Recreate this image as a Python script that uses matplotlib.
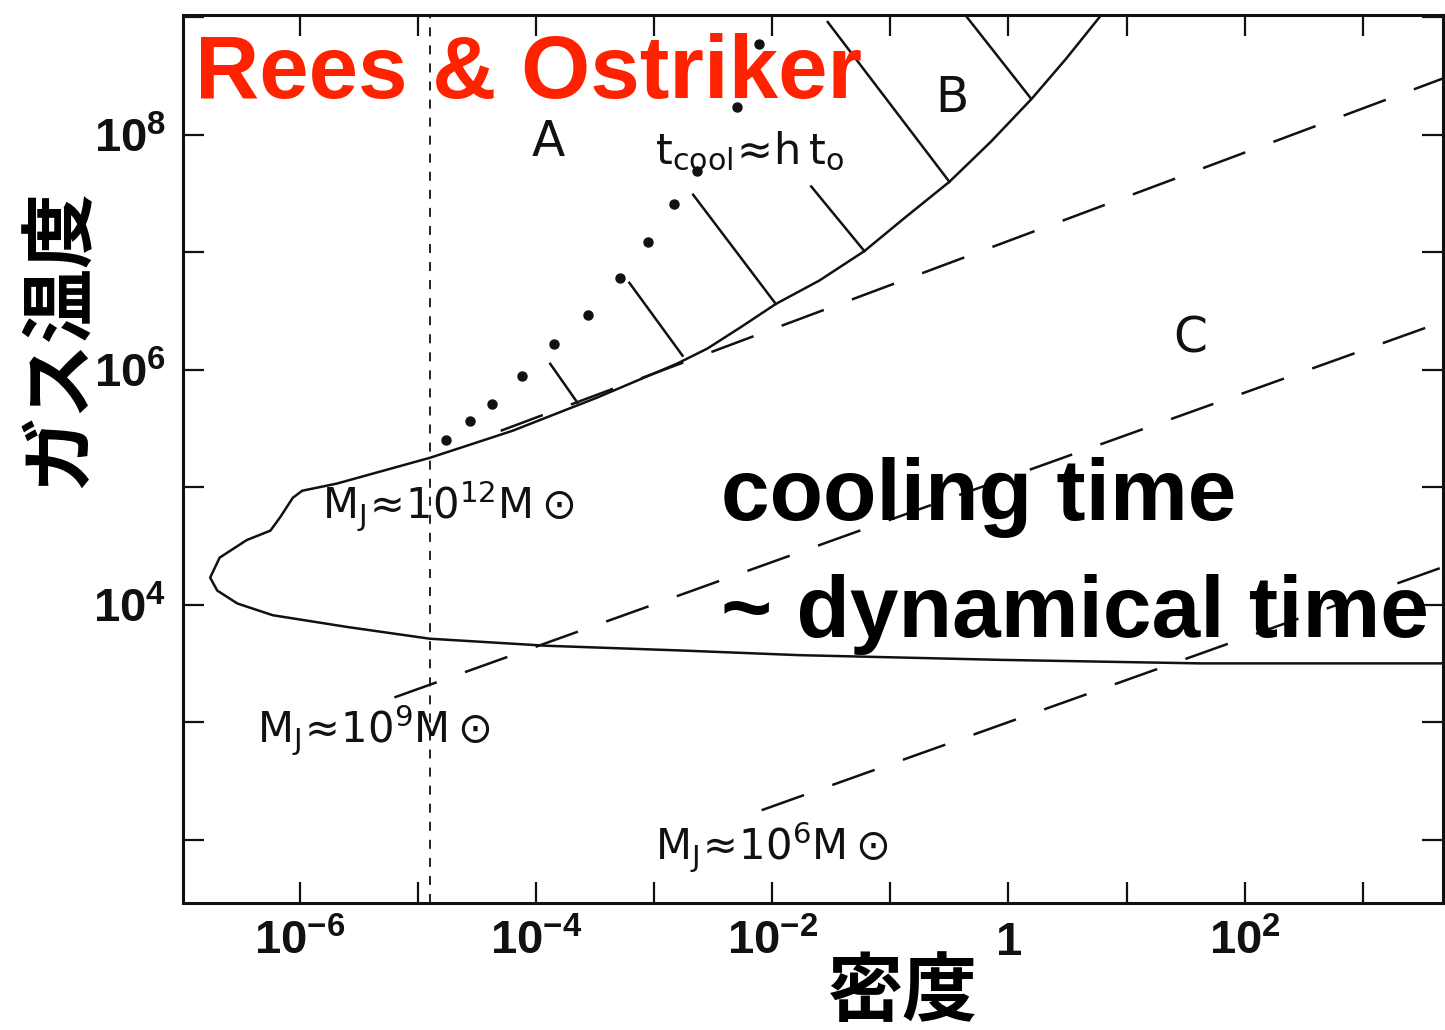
import matplotlib
matplotlib.use("Agg")
import matplotlib.pyplot as plt
from matplotlib.ticker import FixedLocator, NullLocator, FixedFormatter

plt.rcParams['mathtext.fontset'] = 'custom'
plt.rcParams['mathtext.rm'] = 'DejaVu Sans'
plt.rcParams['mathtext.bf'] = 'Liberation Sans:bold'

# boundary of the cooling region (log10 density, log10 temperature)
curve_logn = [0.77, 0.49, 0.20, -0.15, -0.50, -0.87, -1.22, -1.60, -1.97, -2.27, -2.55, -2.81,
              -3.49, -4.20, -4.90, -5.69, -5.98, -6.06, -6.17, -6.25, -6.45, -6.68, -6.76,
              -6.70, -6.53, -6.23, -5.60, -4.90, -3.91, -2.78, -1.77, -0.07, 1.62, 3.68]
curve_logT = [9.00, 8.65, 8.31, 7.94, 7.60, 7.30, 7.01, 6.76, 6.56, 6.36, 6.18, 6.05,
              5.76, 5.48, 5.25, 5.03, 4.97, 4.91, 4.74, 4.63, 4.55, 4.40, 4.23,
              4.12, 4.01, 3.91, 3.81, 3.71, 3.65, 3.61, 3.57, 3.53, 3.50, 3.50]

# t_cool ~ h t_0 dotted line
dots_logn = [-4.76, -4.56, -4.37, -4.12, -3.85, -3.56, -3.29, -3.05, -2.83, -2.64, -2.30, -2.11]
dots_logT = [5.40, 5.56, 5.71, 5.95, 6.22, 6.47, 6.78, 7.09, 7.41, 7.69, 8.24, 8.77]

# hatch strokes on region B
hatch_logn = [(-1.53, -0.50), (-0.35, 0.19), (-1.67, -1.22), (-2.67, -1.97), (-3.21, -2.76), (-3.88, -3.65)]
hatch_logT = [(8.96, 7.60), (9.00, 8.31), (7.56, 7.01), (7.49, 6.56), (6.74, 6.12), (6.05, 5.72)]

# Jeans mass lines
jeans_names = ['12', '9', '6']
jeans_logn = [(-4.30, 3.68), (-5.20, 3.68), (-2.09, 3.68)]
jeans_logT = [(5.48, 8.48), (3.21, 6.41), (2.25, 4.32)]

vline_logn = -4.9

xtick_pos = list(range(-7, 4))
xtick_lab = ['', r'$\mathbf{10^{-6}}$', '', r'$\mathbf{10^{-4}}$', '', r'$\mathbf{10^{-2}}$', '',
             r'$\mathbf{1}$', '', r'$\mathbf{10^{2}}$', '']
ytick_pos = list(range(2, 10))
ytick_lab = ['', '', r'$\mathbf{10^{4}}$', '', r'$\mathbf{10^{6}}$', '', r'$\mathbf{10^{8}}$', '']

ink = '#111111'

fig = plt.figure(figsize=(14.45, 10.3), dpi=100)
ax = fig.add_axes([183 / 1445, 1 - 903 / 1030, 1260 / 1445, 888 / 1030])
ax.set_xscale('log')
ax.set_yscale('log')

ax.plot([10 ** v for v in curve_logn], [10 ** v for v in curve_logT], color=ink, lw=1.8)
ax.plot([10 ** v for v in dots_logn], [10 ** v for v in dots_logT], 'o', color=ink, ms=6.5, ls='none')
for xs, ys in zip(hatch_logn, hatch_logT):
    ax.plot([10 ** v for v in xs], [10 ** v for v in ys], color=ink, lw=1.8)
for xs, ys in zip(jeans_logn, jeans_logT):
    ax.plot([10 ** v for v in xs], [10 ** v for v in ys], color=ink, lw=1.8, dashes=(18, 12))
ax.axvline(10 ** vline_logn, color=ink, lw=1.3, dashes=(5, 5))

ax.set_xlim(10 ** -6.99, 10 ** 3.68)
ax.set_ylim(10 ** 1.46, 10 ** 9.02)

ax.xaxis.set_major_locator(FixedLocator([10.0 ** p for p in xtick_pos]))
ax.xaxis.set_major_formatter(FixedFormatter(xtick_lab))
ax.yaxis.set_major_locator(FixedLocator([10.0 ** p for p in ytick_pos]))
ax.yaxis.set_major_formatter(FixedFormatter(ytick_lab))
ax.xaxis.set_minor_locator(NullLocator())
ax.yaxis.set_minor_locator(NullLocator())
ax.tick_params(which='major', direction='in', length=15, width=1.6, top=True, right=True,
               labelsize=34, colors=ink, pad=12)
for s in ax.spines.values():
    s.set_linewidth(2.2)
    s.set_color(ink)

lab_kw = dict(color=ink, fontsize=35, family='DejaVu Sans', ha='center', va='center')
ax.text(10 ** -3.90, 10 ** 7.94, 'A', **lab_kw)
ax.text(10 ** -0.48, 10 ** 8.31, 'B', **lab_kw)
ax.text(10 ** 1.54, 10 ** 6.27, 'C', **lab_kw)
ax.text(10 ** -2.99, 10 ** 7.86, r'$\mathrm{t_{cool}\!\approx\!h\,t_o}$', color=ink, fontsize=31,
        ha='left', va='center')
mj_pos = [(-5.81, 4.84), (-6.36, 2.93), (-2.99, 1.93)]
for name, (lx, lt) in zip(jeans_names, mj_pos):
    ax.text(10 ** lx, 10 ** lt, r'$\mathrm{M_J\!\approx\!10^{%s}M\odot}$' % name, color=ink,
            fontsize=30, ha='left', va='center')

fig.text(195 / 1445, 1 - 98 / 1030, 'Rees & Ostriker', color='#ff2200', fontsize=64,
         family='Liberation Sans', fontweight='bold', va='baseline', ha='left')
fig.text(721 / 1445, 1 - 520 / 1030, 'cooling time', color='black', fontsize=63,
         family='Liberation Sans', fontweight='bold', va='baseline', ha='left')
fig.text(721 / 1445, 1 - 637 / 1030, '~ dynamical time', color='black', fontsize=63,
         family='Liberation Sans', fontweight='bold', va='baseline', ha='left')

fig.text(60 / 1445, 1 - 338 / 1030, 'ガス温度', rotation=90, fontsize=54, fontweight='bold',
         family=['Noto Sans CJK JP', 'DejaVu Sans'], ha='center', va='center')
fig.text(903 / 1445, 1 - 993 / 1030, '密度', fontsize=54, fontweight='bold',
         family=['Noto Sans CJK JP', 'DejaVu Sans'], ha='center', va='center')

fig.savefig('out.png', dpi=100)
